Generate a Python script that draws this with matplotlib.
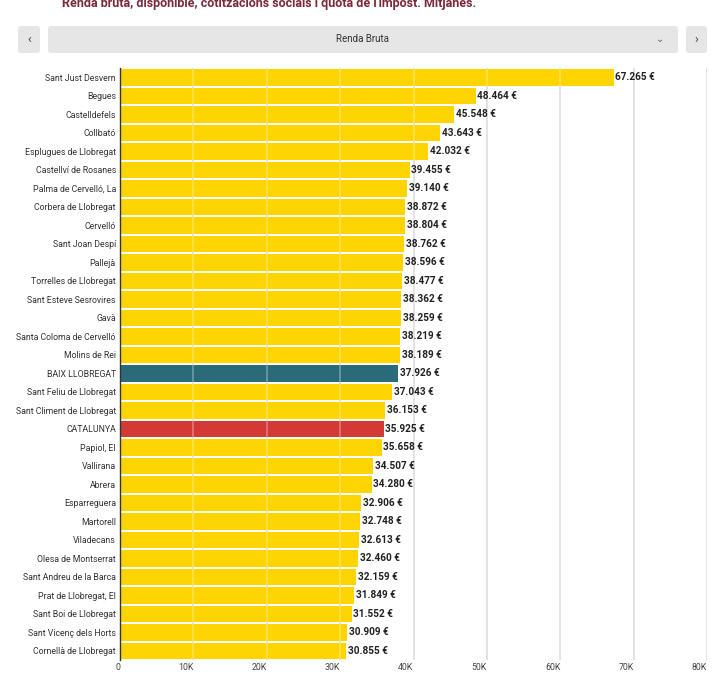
import matplotlib.pyplot as plt
from matplotlib.patches import FancyBboxPatch

plt.rcParams['font.family'] = ['Roboto', 'DejaVu Sans']

# Dades: renda bruta mitjana (€)
municipis = [
    'Sant Just Desvern', 'Begues', 'Castelldefels', 'Collbató',
    'Esplugues de Llobregat', 'Castellví de Rosanes', 'Palma de Cervelló, La',
    'Corbera de Llobregat', 'Cervelló', 'Sant Joan Despí', 'Pallejà',
    'Torrelles de Llobregat', 'Sant Esteve Sesrovires', 'Gavà',
    'Santa Coloma de Cervelló', 'Molins de Rei', 'BAIX LLOBREGAT',
    'Sant Feliu de Llobregat', 'Sant Climent de Llobregat', 'CATALUNYA',
    'Papiol, El', 'Vallirana', 'Abrera', 'Esparreguera', 'Martorell',
    'Viladecans', 'Olesa de Montserrat', 'Sant Andreu de la Barca',
    'Prat de Llobregat, El', 'Sant Boi de Llobregat', 'Sant Vicenç dels Horts',
    'Cornellà de Llobregat',
]
renda = [
    67265, 48464, 45548, 43643, 42032, 39455, 39140, 38872, 38804, 38762,
    38596, 38477, 38362, 38259, 38219, 38189, 37926, 37043, 36153, 35925,
    35658, 34507, 34280, 32906, 32748, 32613, 32460, 32159, 31849, 31552,
    30909, 30855,
]
ticks = [0, 10000, 20000, 30000, 40000, 50000, 60000, 70000, 80000]
tick_labels = ['0', '10K', '20K', '30K', '40K', '50K', '60K', '70K', '80K']

colors = []
for m in municipis:
    if m == 'BAIX LLOBREGAT':
        colors.append('#2b6a78')
    elif m == 'CATALUNYA':
        colors.append('#d23b35')
    else:
        colors.append('#ffd400')

fig = plt.figure(figsize=(7.2, 6.75), dpi=100)
ax = fig.add_axes([120 / 720, 0.022, 587 / 720, 0.877])

y = list(range(len(municipis)))
ax.barh(y, renda, height=0.9, color=colors, zorder=1)
ax.set_ylim(len(municipis) - 0.5, -0.5)
ax.set_xlim(0, 80000)
ax.set_yticks(y)
ax.set_yticklabels(municipis, fontsize=6.3, color='#333333')
ax.set_xticks(ticks)
ax.set_xticklabels(tick_labels, fontsize=6.3, color='#444444', ha='right')
ax.tick_params(axis='both', length=0, pad=3)
ax.tick_params(axis='x', pad=2)

# línies de la graella: grises al fons i blanques suaus damunt les barres
for t in ticks[1:]:
    ax.axvline(t, color='#d5d5d5', linewidth=1.3, zorder=0)
    ax.axvline(t, color='white', linewidth=1.3, alpha=0.3, zorder=2)

for s in ['top', 'right', 'bottom']:
    ax.spines[s].set_visible(False)
ax.spines['left'].set_color('#333333')
ax.spines['left'].set_linewidth(1)
ax.spines['left'].set_zorder(3)

for yi, v in zip(y, renda):
    txt = f'{v:,}'.replace(',', '.') + ' €'
    ax.text(v + 250, yi, txt, va='center', ha='left', fontsize=7.2,
            fontweight='bold', color='#222222', zorder=4)

# Títol (retallat a dalt, com a l'original)
fig.text(62 / 720, 1 - 3 / 675, "Renda bruta, disponible, cotitzacions socials i quota de l'impost. Mitjanes.",
         fontsize=9, fontweight='bold', color='#7a2a3a', va='center', ha='left')

# Controls del selector
def caixa(x0, y0, w, h):
    p = FancyBboxPatch((x0 / 720, 1 - (y0 + h) / 675), w / 720, h / 675,
                       boxstyle='round,pad=0,rounding_size=0.004',
                       transform=fig.transFigure, facecolor='#e6e6e6',
                       edgecolor='none')
    fig.patches.append(p)

caixa(18, 26, 22, 27)
caixa(48, 26, 630, 27)
caixa(686, 26, 21, 27)
fig.text(29 / 720, 1 - 39.5 / 675, '‹', fontsize=9, color='#444444', ha='center', va='center')
fig.text(696.5 / 720, 1 - 39.5 / 675, '›', fontsize=9, color='#444444', ha='center', va='center')
fig.text(363 / 720, 1 - 39.5 / 675, 'Renda Bruta', fontsize=7, color='#333333', ha='center', va='center')
fig.text(660 / 720, 1 - 39.5 / 675, '⌄', fontsize=7, color='#666666', ha='center', va='center')

fig.savefig('out.png', dpi=100)
